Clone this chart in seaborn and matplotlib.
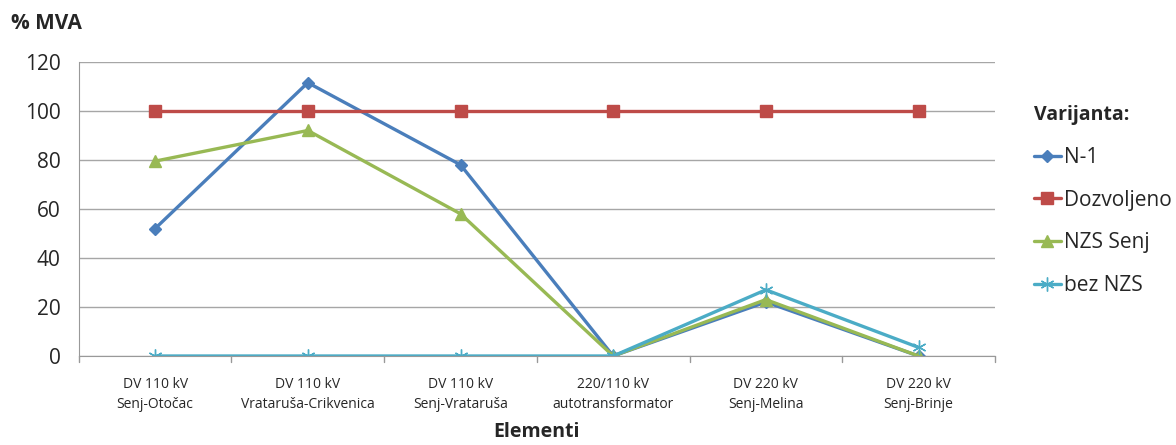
import matplotlib
matplotlib.use("Agg")
import matplotlib.pyplot as plt
import seaborn as sns
import pandas as pd

categories = ["DV 110 kV\nSenj-Otočac", "DV 110 kV\nVrataruša-Crikvenica", "DV 110 kV\nSenj-Vrataruša",
              "220/110 kV\nautotransformator", "DV 220 kV\nSenj-Melina", "DV 220 kV\nSenj-Brinje"]
n1 = [52, 111.5, 78, 0, 22, 0]
dozvoljeno = [100, 100, 100, 100, 100, 100]
nzs_senj = [79.5, 92, 58, 0, 23, 0]
bez_nzs = [0, 0, 0, 0, 27, 3.5]
series_names = ["N-1", "Dozvoljeno", "NZS Senj", "bez NZS"]
yticks = [0, 20, 40, 60, 80, 100, 120]

sns.set_style("white")
plt.rcParams['font.family'] = ['Open Sans', 'DejaVu Sans']

colors = ["#4A7EBB", "#BE4B48", "#98B954", "#4BACC6"]
markers = ['D', 's', '^', (6, 2, 0)]
msizes = [6, 8, 8, 10]

fig = plt.figure(figsize=(11.76, 4.45), dpi=100)
ax = fig.add_axes([0.067, 0.2, 0.779, 0.661])

for name, vals, c, m, ms in zip(series_names, [n1, dozvoljeno, nzs_senj, bez_nzs], colors, markers, msizes):
    d = pd.DataFrame({"x": range(len(vals)), "value": vals})
    sns.lineplot(data=d, x="x", y="value", color=c, marker=m, markersize=ms,
                 markeredgecolor=c, markeredgewidth=1, linewidth=2.4, ax=ax, label=name)

ax.set_xlim(-0.5, 5.5)
ax.set_ylim(0, 120)
ax.set_yticks(yticks)
ax.set_yticklabels([str(t) for t in yticks], fontsize=15)
ax.set_xticks(range(len(categories)))
ax.set_xticklabels(categories, fontsize=10, linespacing=1.5)
ax.tick_params(axis='x', length=0, pad=15)
ax.tick_params(axis='y', length=5, color='#999999', pad=8)
for b in [k - 0.5 for k in range(7)]:
    ax.plot([b, b], [0, -0.02], transform=ax.get_xaxis_transform(), color='#999999', lw=1, clip_on=False)

ax.grid(axis='y', color='#A6A6A6', linewidth=1)
ax.grid(axis='x', visible=False)
ax.set_axisbelow(True)
for s in ['top', 'right']:
    ax.spines[s].set_visible(False)
ax.spines['left'].set_color('#999999')
ax.spines['bottom'].set_color('#999999')

ax.set_xlabel("Elementi", fontsize=14, fontweight='bold', labelpad=7)
ax.set_ylabel("")
fig.text(0.009, 0.948, "% MVA", fontsize=15, fontweight='bold', ha='left', va='center')

handles, labels = ax.get_legend_handles_labels()
ax.get_legend().remove()
leg = fig.legend(handles, labels, loc='upper left', bbox_to_anchor=(0.873, 0.78),
                 frameon=False, fontsize=15, title="Varijanta:",
                 title_fontproperties={'weight': 'bold', 'size': 14},
                 handlelength=1.3, handletextpad=0.15, labelspacing=1.04,
                 borderpad=0.35, borderaxespad=0)
leg._legend_box.align = "left"

fig.savefig("out.png", dpi=100)
